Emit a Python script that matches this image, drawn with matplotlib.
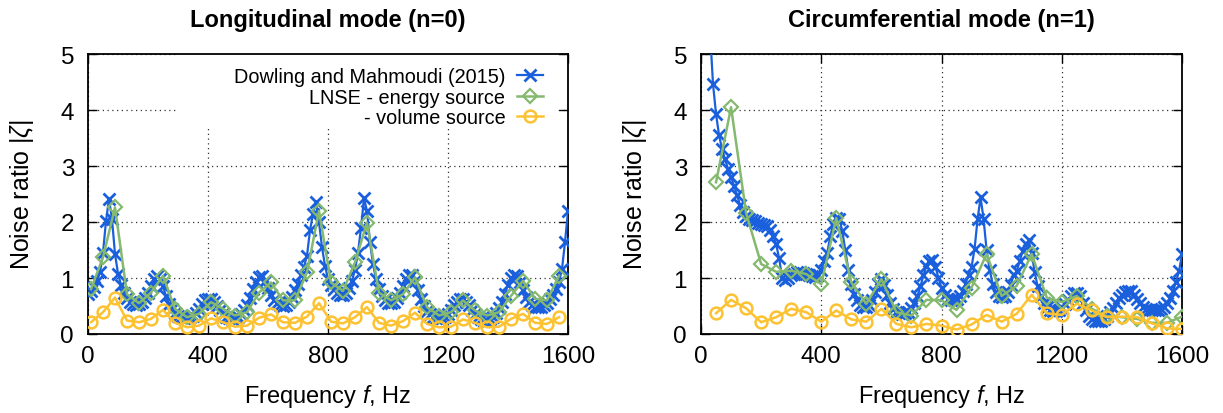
import numpy as np
import matplotlib
matplotlib.use("Agg")
import matplotlib.pyplot as plt
from matplotlib.patches import Rectangle

plt.rcParams['font.family'] = ['Liberation Sans', 'DejaVu Sans']
plt.rcParams['mathtext.fontset'] = 'custom'
plt.rcParams['mathtext.it'] = 'Liberation Sans:italic'
plt.rcParams['mathtext.rm'] = 'Liberation Sans'

# ---------------- data ----------------
# Longitudinal mode (n=0)
f_ref_long = np.arange(0, 1601, 10)
zeta_ref_long = [
    0.72, 0.76, 0.84, 0.95, 1.10, 1.45, 2.02, 2.41, 2.05, 1.43,
    1.08, 0.88, 0.74, 0.64, 0.58, 0.54, 0.52, 0.53, 0.57, 0.64,
    0.74, 0.86, 0.98, 1.04, 0.98, 0.85, 0.68, 0.54, 0.45, 0.38,
    0.33, 0.30, 0.28, 0.28, 0.30, 0.33, 0.38, 0.45, 0.53, 0.60,
    0.63, 0.62, 0.57, 0.50, 0.42, 0.36, 0.31, 0.28, 0.27, 0.28,
    0.31, 0.35, 0.42, 0.52, 0.65, 0.80, 0.93, 1.02, 1.03, 0.95,
    0.82, 0.70, 0.61, 0.55, 0.51, 0.50, 0.52, 0.57, 0.66, 0.78,
    0.90, 1.05, 1.20, 1.40, 1.85, 2.15, 2.35, 2.00, 1.55, 1.22,
    0.98, 0.88, 0.80, 0.74, 0.70, 0.70, 0.74, 0.82, 0.95, 1.15,
    1.45, 1.90, 2.42, 2.20, 1.64, 1.25, 0.98, 0.80, 0.68, 0.60,
    0.56, 0.55, 0.58, 0.64, 0.74, 0.86, 0.98, 1.06, 1.05, 0.95,
    0.78, 0.62, 0.50, 0.41, 0.35, 0.31, 0.28, 0.27, 0.28, 0.31,
    0.36, 0.43, 0.51, 0.58, 0.62, 0.62, 0.58, 0.51, 0.43, 0.36,
    0.30, 0.26, 0.24, 0.24, 0.26, 0.30, 0.37, 0.46, 0.58, 0.72,
    0.88, 1.00, 1.06, 1.03, 0.92, 0.78, 0.66, 0.58, 0.52, 0.49,
    0.48, 0.49, 0.52, 0.56, 0.62, 0.70, 0.80, 0.93, 1.16, 1.64,
    2.20,
]
f_lnse_long = np.arange(10, 1571, 40)
zeta_energy_long = [
    0.80, 1.37, 2.26, 0.71, 0.55, 0.74, 1.04, 0.45, 0.30, 0.36,
    0.57, 0.45, 0.33, 0.39, 0.74, 0.92, 0.60, 0.60, 1.10, 2.20,
    0.92, 0.77, 1.28, 1.99, 0.74, 0.60, 0.71, 1.01, 0.48, 0.33,
    0.39, 0.60, 0.42, 0.33, 0.39, 0.68, 0.95, 0.63, 0.60, 1.04,
]
zeta_volume_long = [
    0.21, 0.39, 0.65, 0.24, 0.21, 0.27, 0.43, 0.20, 0.12, 0.15,
    0.28, 0.21, 0.13, 0.15, 0.29, 0.35, 0.21, 0.20, 0.31, 0.55,
    0.22, 0.19, 0.30, 0.48, 0.20, 0.15, 0.23, 0.38, 0.18, 0.12,
    0.13, 0.26, 0.20, 0.12, 0.13, 0.27, 0.36, 0.20, 0.18, 0.30,
]

# Circumferential mode (n=1)
f_ref_circ = np.arange(30, 1601, 10)
zeta_ref_circ = [
    5.40, 4.46, 3.93, 3.55, 3.30, 3.12, 2.95, 2.80, 2.65, 2.48,
    2.30, 2.18, 2.10, 2.06, 2.03, 2.01, 1.99, 1.97, 1.95, 1.92,
    1.86, 1.75, 1.60, 1.35, 1.00, 0.96, 1.00, 1.05, 1.08, 1.10,
    1.10, 1.09, 1.07, 1.05, 1.03, 1.02, 1.05, 1.15, 1.30, 1.45,
    1.75, 1.96, 2.08, 2.06, 1.84, 1.50, 1.15, 0.90, 0.72, 0.60,
    0.52, 0.48, 0.48, 0.52, 0.60, 0.75, 0.90, 0.98, 0.88, 0.70,
    0.55, 0.45, 0.40, 0.37, 0.36, 0.37, 0.40, 0.46, 0.55, 0.68,
    0.85, 1.05, 1.22, 1.30, 1.33, 1.20, 1.00, 0.82, 0.70, 0.63,
    0.60, 0.60, 0.63, 0.68, 0.77, 0.90, 1.05, 1.20, 1.52, 2.05,
    2.44, 2.05, 1.50, 1.15, 0.90, 0.75, 0.68, 0.66, 0.68, 0.75,
    0.88, 1.05, 1.12, 1.30, 1.48, 1.60, 1.67, 1.45, 1.10, 0.85,
    0.68, 0.56, 0.48, 0.43, 0.41, 0.41, 0.43, 0.47, 0.53, 0.60,
    0.68, 0.73, 0.74, 0.68, 0.55, 0.42, 0.33, 0.27, 0.24, 0.23,
    0.24, 0.27, 0.32, 0.39, 0.47, 0.56, 0.64, 0.70, 0.75, 0.77,
    0.76, 0.70, 0.62, 0.55, 0.49, 0.45, 0.43, 0.42, 0.42, 0.42,
    0.44, 0.48, 0.55, 0.64, 0.77, 0.93, 1.12, 1.42,
]
f_lnse_circ = np.arange(50, 1601, 50)
zeta_energy_circ = [
    2.71, 4.05, 2.16, 1.25, 1.11, 1.13, 1.07, 0.89, 2.07, 0.92,
    0.54, 0.98, 0.39, 0.33, 0.61, 0.60, 0.43, 0.83, 1.43, 0.68,
    0.86, 1.43, 0.65, 0.57, 0.68, 0.45, 0.32, 0.30, 0.27, 0.20,
    0.20, 0.31,
]
zeta_volume_circ = [
    0.37, 0.61, 0.46, 0.21, 0.30, 0.45, 0.39, 0.22, 0.42, 0.26,
    0.22, 0.45, 0.18, 0.12, 0.18, 0.15, 0.08, 0.17, 0.34, 0.22,
    0.36, 0.70, 0.37, 0.34, 0.54, 0.42, 0.30, 0.31, 0.30, 0.19,
    0.10, 0.09,
]

panel_titles = ["Longitudinal mode (n=0)", "Circumferential mode (n=1)"]
series_labels = ["Dowling and Mahmoudi (2015)", "LNSE - energy source", "- volume source"]
x_ticks = [0, 400, 800, 1200, 1600]
y_ticks = [0, 1, 2, 3, 4, 5]

c_ref = '#1a5fdc'
c_energy = '#84b96f'
c_volume = '#fcc232'

W, H = 1223, 414
fig = plt.figure(figsize=(W / 100, H / 100), dpi=100)

def px_axes(x0, x1, ytop, ybot):
    return fig.add_axes([x0 / W, (H - ybot) / H, (x1 - x0) / W, (ybot - ytop) / H])

ax_l = px_axes(88, 568, 55, 335)
ax_r = px_axes(701, 1182, 55, 335)

panels = [
    (ax_l, f_ref_long, zeta_ref_long, f_lnse_long, zeta_energy_long, zeta_volume_long),
    (ax_r, f_ref_circ, zeta_ref_circ, f_lnse_circ, zeta_energy_circ, zeta_volume_circ),
]

for i, (ax, fr, zr, fl, ze, zv) in enumerate(panels):
    ax.set_axisbelow(True)
    ax.plot(fr, zr, color=c_ref, lw=1.6, marker='x', ms=9, mew=2.0,
            label=series_labels[0], zorder=3)
    ax.plot(fl, ze, color=c_energy, lw=1.8, marker='D', ms=7.5, mew=1.6,
            mfc='none', label=series_labels[1], zorder=4)
    ax.plot(fl, zv, color=c_volume, lw=1.8, marker='o', ms=8.5, mew=1.8,
            mfc='none', label=series_labels[2], zorder=5)

    ax.set_xlim(0, 1600)
    ax.set_ylim(0, 5)
    ax.set_xticks(x_ticks)
    ax.set_yticks(y_ticks)
    ax.tick_params(direction='in', length=6.5, width=1.0, labelsize=17.5,
                   top=True, right=True, pad=8)
    ax.tick_params(axis='y', pad=10)
    for sp in ax.spines.values():
        sp.set_linewidth(1.3)
    ax.grid(True, color='#333333', linestyle=(0, (1.0, 2.8)), linewidth=0.9)

    ax.set_xlabel(r"Frequency $f$, Hz", fontsize=17)
    ax.set_ylabel(r"Noise ratio |$\zeta$|", fontsize=18)
    ax.xaxis.set_label_coords(0.5, -0.218)
    ax.yaxis.set_label_coords(-0.137, 0.5)
    ax.xaxis.label.set_va('center')
    ax.yaxis.label.set_va('center')
    ax.text(0.5, 1.125, panel_titles[i], transform=ax.transAxes, ha='center',
            va='center', fontsize=17, fontweight='bold')

# opaque key area in the left panel
ax_l.add_patch(Rectangle((0.185, 0.732), 0.79, 0.268, transform=ax_l.transAxes,
                         facecolor='white', edgecolor='none', zorder=1))
ax_l.legend(loc='upper right', bbox_to_anchor=(0.948, 0.952), frameon=False,
            markerfirst=False, fontsize=14.3, handlelength=1.3, handletextpad=0.6,
            labelspacing=0.06, borderpad=0, borderaxespad=0)

fig.savefig("out.png", dpi=100)
